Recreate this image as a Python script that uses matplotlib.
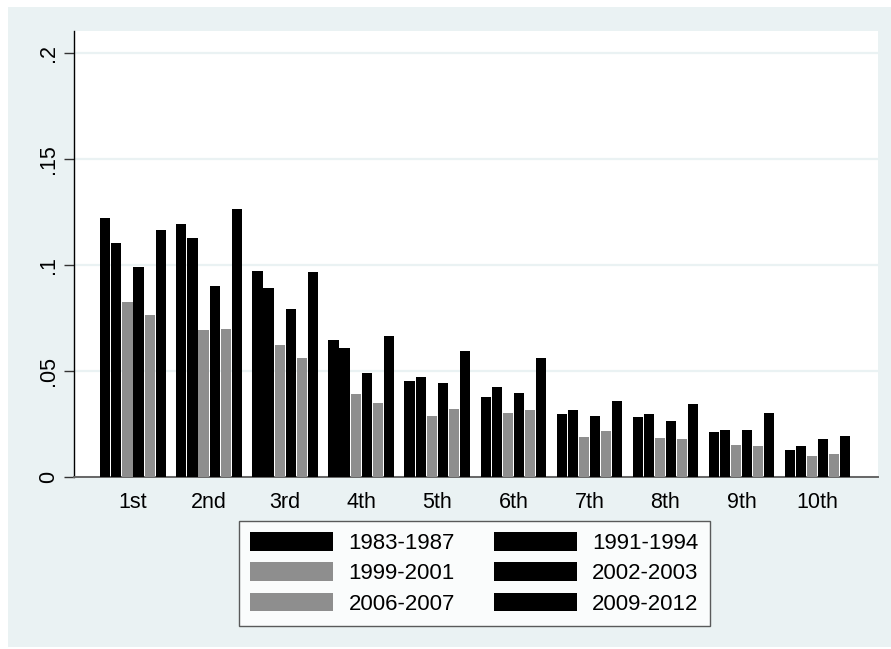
import matplotlib
matplotlib.use("Agg")
import matplotlib.pyplot as plt
import numpy as np
from matplotlib.patches import Rectangle, Patch

categories = ["1st", "2nd", "3rd", "4th", "5th", "6th", "7th", "8th", "9th", "10th"]
series_labels = ["1983-1987", "1991-1994", "1999-2001", "2002-2003", "2006-2007", "2009-2012"]
s1983 = [0.1223, 0.1192, 0.0970, 0.0645, 0.0451, 0.0379, 0.0295, 0.0283, 0.0212, 0.0127]
s1991 = [0.1104, 0.1126, 0.0892, 0.0607, 0.0472, 0.0426, 0.0316, 0.0297, 0.0220, 0.0145]
s1999 = [0.0827, 0.0692, 0.0624, 0.0393, 0.0288, 0.0302, 0.0187, 0.0182, 0.0151, 0.0100]
s2002 = [0.0992, 0.0901, 0.0791, 0.0489, 0.0443, 0.0396, 0.0286, 0.0266, 0.0223, 0.0178]
s2006 = [0.0766, 0.0697, 0.0560, 0.0351, 0.0319, 0.0316, 0.0217, 0.0178, 0.0145, 0.0108]
s2009 = [0.1165, 0.1266, 0.0967, 0.0664, 0.0596, 0.0561, 0.0360, 0.0344, 0.0300, 0.0195]
series = [s1983, s1991, s1999, s2002, s2006, s2009]
colors = ["#000000", "#000000", "#8e8e8e", "#000000", "#8e8e8e", "#000000"]
yticks = [0, 0.05, 0.10, 0.15, 0.20]
ytick_labels = ["0", ".05", ".1", ".15", ".2"]

plt.rcParams['font.family'] = ['Liberation Sans', 'DejaVu Sans']
BG = "#EAF2F3"
W, H = 891, 649
fig = plt.figure(figsize=(W / 100, H / 100), dpi=100, facecolor="white")
fig.patches.append(Rectangle((8 / W, 2 / H), (W - 8) / W, (H - 9) / H,
                             transform=fig.transFigure, facecolor=BG,
                             edgecolor="none", zorder=-10))

ax = fig.add_axes([74 / W, (H - 477) / H, (878 - 74) / W, (477 - 31) / H])
ax.set_facecolor("white")

x = np.arange(len(categories))
step = 0.1459
width = 0.134
handles = []
for i, (vals, c, lab) in enumerate(zip(series, colors, series_labels)):
    offs = (i - 2.5) * step
    ax.bar(x + offs, vals, width=width, color=c, edgecolor="none", zorder=3)
    handles.append(Patch(facecolor=c, edgecolor="none", label=lab))

ax.set_xlim(-0.776, 9.794)
ax.set_ylim(0, 0.2104)
ax.set_yticks(yticks)
ax.set_yticklabels(ytick_labels, rotation=90, va="center", fontsize=15.5)
ax.set_xticks(x)
ax.set_xticklabels(categories, fontsize=15.5)
ax.tick_params(axis="x", length=0, pad=11)
ax.tick_params(axis="y", length=7, width=1, color="#333333", pad=4)
ax.grid(axis="y", color=BG, linewidth=1.6, zorder=0)
ax.set_axisbelow(True)
for s in ["top", "right"]:
    ax.spines[s].set_visible(False)
ax.spines["left"].set_color("#000000")
ax.spines["left"].set_linewidth(1.0)
ax.spines["bottom"].set_color("#666666")
ax.spines["bottom"].set_linewidth(1.4)

order = [0, 2, 4, 1, 3, 5]
leg = fig.legend([handles[i] for i in order], [series_labels[i] for i in order],
                 ncol=2, loc="upper left",
                 bbox_to_anchor=(239 / W, 1 - 521 / H), borderaxespad=0,
                 fontsize=16, handlelength=3.75, handleheight=0.9,
                 handletextpad=0.68, columnspacing=1.75, labelspacing=0.38,
                 borderpad=0.5, fancybox=False, frameon=True)
leg.get_frame().set_edgecolor("#333333")
leg.get_frame().set_linewidth(1.0)

fig.savefig("out.png", dpi=100, facecolor=fig.get_facecolor())
